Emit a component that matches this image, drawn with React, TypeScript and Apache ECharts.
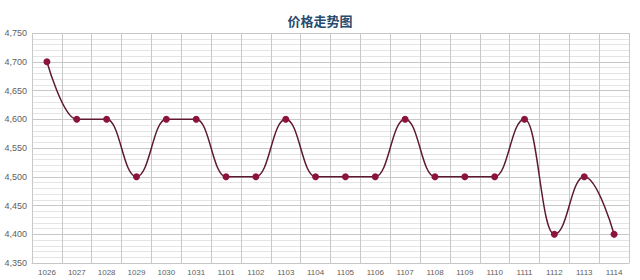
import React, { useEffect, useRef } from "react";
import * as echarts from "echarts";

const categories = ["1026","1027","1028","1029","1030","1031","1101","1102","1103","1104","1105","1106","1107","1108","1109","1110","1111","1112","1113","1114"];
const prices = [4700,4600,4600,4500,4600,4600,4500,4500,4600,4500,4500,4500,4600,4500,4500,4500,4600,4400,4500,4400];
const yMin = 4350;
const yMax = 4750;
const yInterval = 50;

export default function App() {
  const ref = useRef<HTMLDivElement>(null);
  useEffect(() => {
    document.body.style.margin = "0";
    const chart = echarts.init(ref.current!, null, { renderer: "svg" });
    chart.setOption({
      animation: false,
      backgroundColor: "#ffffff",
      title: {
        text: "价格走势图",
        left: "center",
        top: 9,
        textStyle: { fontFamily: "Noto Sans CJK SC", fontSize: 13, fontWeight: "bold", color: "#274b6d" },
      },
      grid: { left: 32, right: 11, top: 33, bottom: 17 },
      xAxis: {
        type: "category",
        data: categories,
        boundaryGap: true,
        axisLine: { lineStyle: { color: "#c8c8c8" } },
        axisTick: { show: false },
        axisLabel: { color: "#606060", fontSize: 8, fontFamily: "Liberation Sans", margin: 5, interval: 0 },
        splitLine: { show: true, interval: 0, lineStyle: { color: "#c8c8c8", width: 1 } },
      },
      yAxis: {
        type: "value",
        min: yMin,
        max: yMax,
        interval: yInterval,
        axisLine: { show: false },
        axisTick: { show: false },
        axisLabel: {
          color: "#606060",
          fontSize: 9,
          fontFamily: "Liberation Sans",
          margin: 5,
          formatter: (v: number) => v.toLocaleString("en-US"),
        },
        splitLine: { lineStyle: { color: "#c8c8c8", width: 1 } },
        minorTick: { show: false, splitNumber: 5 },
        minorSplitLine: { show: true, lineStyle: { color: "#e4e4e4", width: 1 } },
      },
      series: [
        {
          type: "line",
          data: prices,
          smooth: 0.45,
          smoothMonotone: "x",
          symbol: "circle",
          symbolSize: 7,
          lineStyle: { color: "#5e1a33", width: 1.5 },
          itemStyle: { color: "#8c1339" },
        },
      ],
    });
    return () => chart.dispose();
  }, []);
  return <div ref={ref} style={{ width: 640, height: 280 }} />;
}
